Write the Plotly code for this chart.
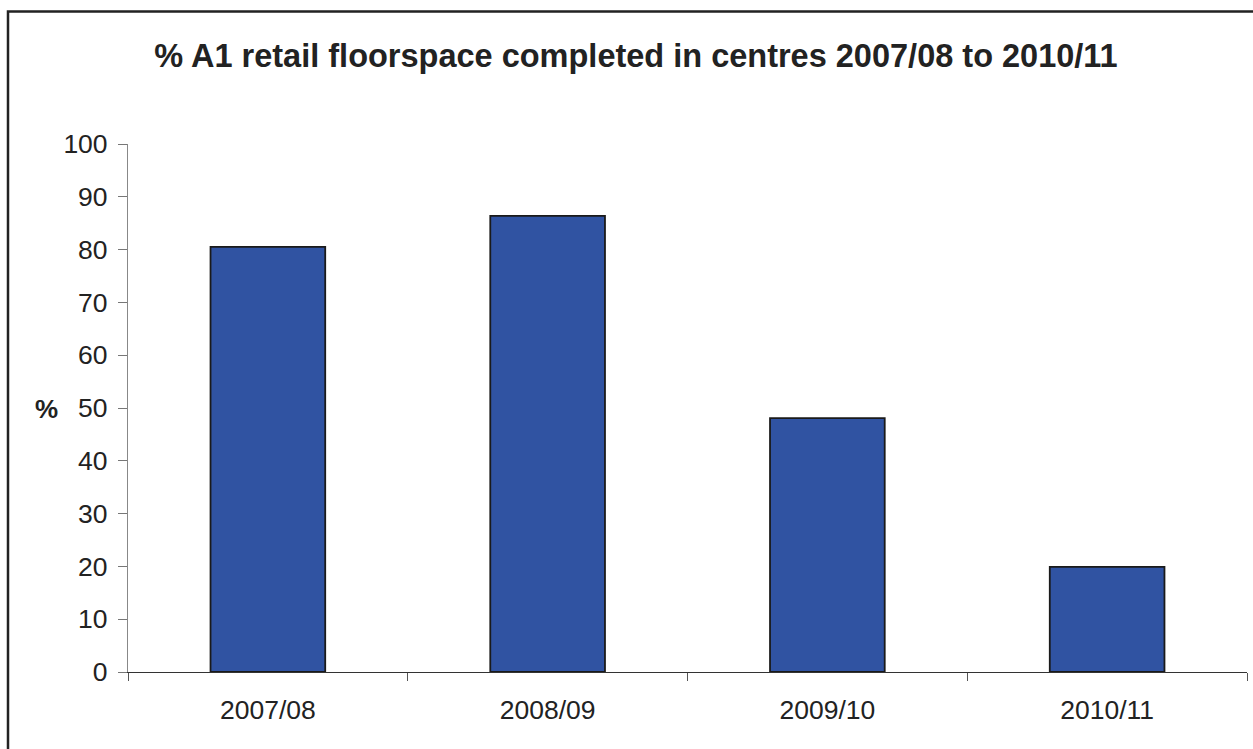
import plotly.graph_objects as go

categories = ["2007/08", "2008/09", "2009/10", "2010/11"]
values = [80.5, 86.4, 48.1, 19.9]
y_ticks = [0, 10, 20, 30, 40, 50, 60, 70, 80, 90, 100]

title_text = "% A1 retail floorspace completed in centres 2007/08 to 2010/11"
y_title = "%"

W, H = 1253, 749
ml, mr, mt, mb = 128, 6, 144, 77
pw, ph = W - ml - mr, H - mt - mb

fig = go.Figure(
    go.Bar(
        x=categories,
        y=values,
        width=0.41,
        marker=dict(color="#3053A2", line=dict(color="#1a1a1a", width=1.8)),
    )
)

font_family = "Liberation Sans, Arial, sans-serif"

fig.update_layout(
    width=W,
    height=H,
    margin=dict(l=ml, r=mr, t=mt, b=mb),
    paper_bgcolor="white",
    plot_bgcolor="white",
    showlegend=False,
    font=dict(family=font_family, color="#222222", size=26.5),
    title=dict(
        text="<b>" + title_text + "</b>",
        font=dict(size=32.5, family=font_family, color="#222222"),
        xref="container",
        yref="container",
        x=636 / W,
        y=1 - 56 / H,
        xanchor="center",
        yanchor="middle",
    ),
    xaxis=dict(
        type="category",
        tickson="boundaries",
        ticks="outside",
        ticklen=8,
        tickwidth=1.2,
        tickcolor="#555555",
        showline=True,
        linecolor="#333333",
        linewidth=1.2,
        showgrid=False,
        tickfont=dict(size=26.5),
        ticklabelstandoff=14,
        range=[-0.5, 3.5],
    ),
    yaxis=dict(
        range=[0, 100],
        tickvals=y_ticks,
        ticks="outside",
        ticklen=9,
        tickwidth=1.2,
        tickcolor="#777777",
        showline=True,
        linecolor="#888888",
        linewidth=1.2,
        showgrid=False,
        zeroline=False,
        tickfont=dict(size=26.5),
        ticklabelstandoff=5,
    ),
    bargap=0.59,
)

# y-axis title (horizontal)
fig.add_annotation(
    text="<b>" + y_title + "</b>",
    xref="paper",
    yref="paper",
    x=(47 - ml) / pw,
    y=(H - mb - 409) / ph,
    xanchor="center",
    yanchor="middle",
    showarrow=False,
    font=dict(size=26, family=font_family, color="#222222"),
)

# outer chart frame
fig.add_shape(
    type="rect",
    xref="paper",
    yref="paper",
    x0=(8 - ml) / pw,
    x1=(W + 20 - ml) / pw,
    y0=(H - mb - (H + 20)) / ph,
    y1=(H - mb - 11.5) / ph,
    line=dict(color="#222222", width=2.5),
    fillcolor="rgba(0,0,0,0)",
    layer="above",
)

fig.write_html(
    "out.html",
    config={"displayModeBar": False},
    post_script="document.body.style.margin='0';document.body.style.overflow='hidden';",
)
